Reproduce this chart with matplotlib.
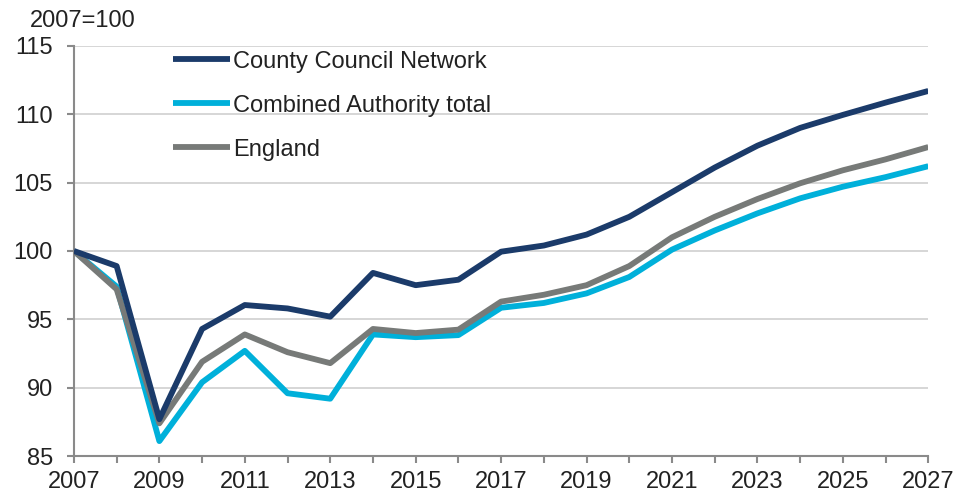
import matplotlib
matplotlib.use('Agg')
import matplotlib.pyplot as plt

plt.rcParams['font.family'] = ['Liberation Sans', 'DejaVu Sans']

years = list(range(2007, 2028))
ccn = [100.0, 98.9, 87.7, 94.3, 96.05, 95.8, 95.2, 98.4, 97.5, 97.9, 99.95,
       100.4, 101.2, 102.5, 104.3, 106.1, 107.7, 109.0, 109.95, 110.85, 111.7]
ca_total = [100.0, 97.4, 86.1, 90.4, 92.7, 89.6, 89.2, 93.9, 93.7, 93.85, 95.85,
            96.2, 96.9, 98.1, 100.1, 101.5, 102.75, 103.85, 104.7, 105.4, 106.2]
england = [100.0, 97.2, 87.4, 91.9, 93.9, 92.6, 91.8, 94.3, 94.0, 94.25, 96.3,
           96.8, 97.5, 98.9, 101.0, 102.5, 103.8, 104.95, 105.9, 106.7, 107.6]
series_names = ['County Council Network', 'Combined Authority total', 'England']

grey = '#8a8a8a'
fs = 17

fig = plt.figure(figsize=(9.6, 4.98), dpi=100)
ax = fig.add_axes([0.077, 0.084, 0.890, 0.824])

ax.plot(years, ccn, color='#1b3b6a', lw=4.2, label=series_names[0], zorder=4,
        solid_capstyle='butt')
ax.plot(years, ca_total, color='#00b0da', lw=4.2, label=series_names[1], zorder=2,
        solid_capstyle='butt')
ax.plot(years, england, color='#777a78', lw=4.2, label=series_names[2], zorder=3,
        solid_capstyle='butt')

ax.set_xlim(2007, 2027)
ax.set_ylim(85, 115)
ax.set_yticks(range(85, 116, 5))
ax.set_xticks(years, minor=True)
ax.set_xticks(range(2007, 2028, 2))

ax.yaxis.grid(True, color='#cfcfcf', lw=1.2)
ax.set_axisbelow(True)
for s in ['top', 'right']:
    ax.spines[s].set_visible(False)
for s in ['left', 'bottom']:
    ax.spines[s].set_color(grey)
    ax.spines[s].set_linewidth(1.5)

ax.tick_params(axis='both', which='both', direction='out', color=grey,
               width=1.5, length=5, labelsize=fs, labelcolor='#222222')
ax.tick_params(axis='y', pad=10)
ax.tick_params(axis='x', pad=6)

leg = ax.legend(loc='upper left', bbox_to_anchor=(0.105, 1.011), frameon=False,
                fontsize=fs, handlelength=2.4, handletextpad=0.15,
                labelspacing=0.93, borderaxespad=0)
for t in leg.get_texts():
    t.set_color('#222222')

fig.text(0.031, 0.958, '2007=100', fontsize=fs, ha='left', va='center',
         color='#222222')

fig.savefig('out.png', dpi=100)
